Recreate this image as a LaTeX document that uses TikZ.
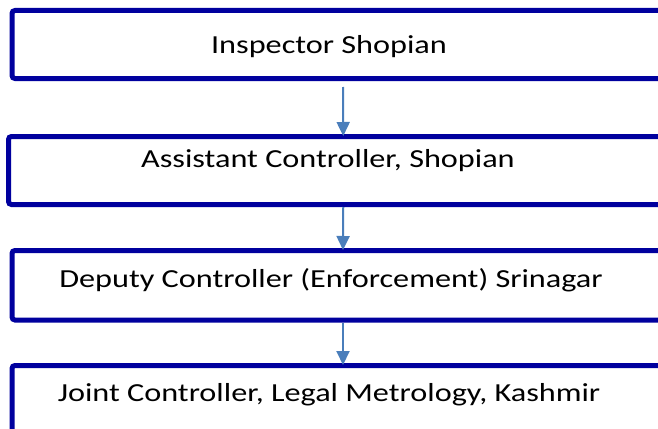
\documentclass[tikz,border=0pt]{standalone}
\usepackage{fontspec}
\setmainfont{Carlito}
\usepackage{xcolor}
\usetikzlibrary{arrows.meta}
\definecolor{boxblue}{RGB}{0,0,158}
\definecolor{arrowblue}{RGB}{74,126,187}

\begin{document}
\begin{tikzpicture}[x=1pt,y=-1pt,
   box/.style={draw=boxblue,line width=5pt,rounded corners=3pt,minimum width=662pt,inner sep=0pt},
   lbl/.style={font=\fontsize{26}{30}\selectfont,inner sep=0pt,xscale=1.24,transform shape},
   flow/.style={draw=arrowblue,line width=2pt,-{Triangle[length=14pt,width=13pt]},shorten >=-2pt}]
   \useasboundingbox (0,0) rectangle (658,428);
   \clip (0,0) rectangle (658,428);
   \node[box,minimum height=68pt] (box1) at (343,44.5) {};
   \node[box,minimum height=68pt,minimum width=669.5pt] (box2) at (343.25,170.5) {};
   \node[box,minimum height=69.5pt] (box3) at (343,285.25) {};
   \node[box,minimum height=70pt] (box4) at (343,400.5) {};
   \node[lbl] (inspector) at (329,47) {Inspector Shopian};
   \node[lbl] (assistant) at (328,161) {Assistant Controller, Shopian};
   \node[lbl] (deputy) at (331,280) {Deputy Controller (Enforcement) Srinagar};
   \node[lbl] (joint) at (329,395) {Joint Controller, Legal Metrology, Kashmir};
   \draw[flow] ([yshift=-6pt]box1.south) -- (box2.north);
   \draw[flow] (box2.south) -- (box3.north);
   \draw[flow] (box3.south) -- (box4.north);
\end{tikzpicture}
\end{document}
